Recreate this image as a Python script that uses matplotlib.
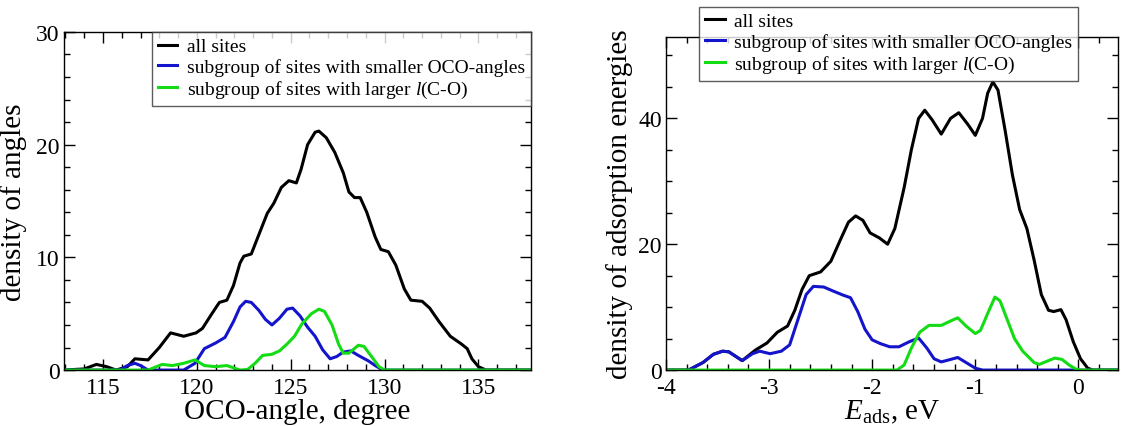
import matplotlib
matplotlib.use("Agg")
import matplotlib.pyplot as plt
from matplotlib.ticker import MultipleLocator

plt.rcParams['font.family'] = ['Liberation Serif', 'DejaVu Serif']
plt.rcParams['mathtext.fontset'] = 'custom'
plt.rcParams['mathtext.rm'] = 'Liberation Serif'
plt.rcParams['mathtext.it'] = 'Liberation Serif:italic'
plt.rcParams['axes.unicode_minus'] = False

# ---- left panel: OCO-angle densities ----
ang_all_x = [112.9, 114.0, 114.65, 115.2, 115.7, 116.3, 116.7, 117.4, 118.0, 118.6, 119.3, 119.96,
             120.3, 120.8, 121.2, 121.6, 121.95, 122.3, 122.5, 122.9, 123.3, 123.75, 124.1, 124.5,
             124.9, 125.3, 125.55, 125.9, 126.3, 126.5, 126.9, 127.35, 127.8, 128.1, 128.4, 128.7,
             129.05, 129.5, 129.8, 130.2, 130.6, 131.05, 131.4, 132.0, 132.4, 132.9, 133.5, 134.1,
             134.4, 134.65, 135.0, 135.4, 137.8]
ang_all_y = [0, 0.1, 0.5, 0.3, 0, 0.3, 1.0, 0.9, 2.0, 3.3, 3.0, 3.3,
             3.7, 5.0, 6.0, 6.2, 7.5, 9.5, 10.1, 10.3, 12.0, 13.9, 14.8, 16.2,
             16.8, 16.6, 17.8, 20.0, 21.1, 21.2, 20.6, 19.3, 17.5, 15.8, 15.3, 15.3,
             14.0, 11.8, 10.7, 10.5, 9.3, 7.2, 6.2, 6.1, 5.5, 4.3, 3.0, 2.3,
             1.9, 1.0, 0.3, 0, 0]

ang_small_x = [112.9, 115.9, 116.3, 116.7, 117.0, 117.4, 119.3, 119.9, 120.4, 121.0, 121.5, 121.95,
               122.3, 122.6, 122.9, 123.3, 123.65, 124.0, 124.4, 124.8, 125.1, 125.5, 125.9, 126.3,
               126.7, 127.1, 127.45, 127.8, 128.2, 128.6, 129.15, 129.5, 129.9, 137.8]
ang_small_y = [0, 0, 0.4, 0.6, 0.4, 0, 0, 0.6, 1.9, 2.4, 2.9, 4.3,
               5.6, 6.1, 6.0, 5.3, 4.5, 4.0, 4.6, 5.4, 5.5, 4.8, 3.8, 3.0,
               1.8, 1.0, 1.2, 1.6, 1.7, 1.3, 0.8, 0.4, 0, 0]

ang_large_x = [112.9, 117.4, 118.15, 118.7, 119.3, 119.9, 120.4, 121.0, 121.6, 121.95, 122.3, 122.7,
               123.1, 123.5, 124.0, 124.4, 124.8, 125.2, 125.6, 126.1, 126.5, 126.8, 127.2, 127.55,
               127.8, 128.1, 128.6, 128.9, 129.35, 129.7, 130.0, 137.8]
ang_large_y = [0, 0, 0.5, 0.4, 0.6, 0.9, 0.4, 0.3, 0.4, 0.2, 0, 0.05,
               0.6, 1.3, 1.4, 1.7, 2.3, 3.0, 4.1, 5.0, 5.4, 5.2, 4.0, 2.3,
               1.5, 1.5, 2.2, 2.1, 1.1, 0.3, 0, 0]

# ---- right panel: adsorption energy densities ----
e_all_x = [-4.0, -3.78, -3.64, -3.54, -3.45, -3.39, -3.26, -3.13, -3.02, -2.92, -2.82, -2.75,
           -2.68, -2.61, -2.5, -2.4, -2.3, -2.23, -2.16, -2.09, -2.02, -1.93, -1.85, -1.78,
           -1.69, -1.62, -1.55, -1.49, -1.42, -1.33, -1.24, -1.16, -1.07, -1.0, -0.93, -0.88,
           -0.83, -0.78, -0.71, -0.64, -0.57, -0.5, -0.43, -0.36, -0.29, -0.24, -0.17, -0.12,
           -0.05, 0.02, 0.09, 0.14, 0.38]
e_all_y = [0, 0, 1.2, 2.5, 3.0, 2.9, 1.5, 3.2, 4.3, 6.0, 7.0, 9.5,
           12.8, 15.0, 15.6, 17.3, 21.0, 23.5, 24.5, 23.8, 21.8, 21.0, 20.0, 22.5,
           29.0, 35.0, 40.0, 41.3, 39.8, 37.5, 40.0, 40.9, 39.0, 37.3, 40.0, 44.0,
           45.8, 44.5, 38.0, 31.0, 25.5, 22.5, 17.5, 12.0, 9.5, 9.3, 9.6, 8.0,
           4.5, 1.8, 0.3, 0, 0]

e_small_x = [-4.0, -3.78, -3.64, -3.54, -3.45, -3.39, -3.26, -3.16, -3.09, -2.99, -2.88, -2.8,
             -2.73, -2.64, -2.57, -2.47, -2.37, -2.28, -2.21, -2.14, -2.07, -2.0, -1.92, -1.83,
             -1.74, -1.64, -1.55, -1.47, -1.4, -1.33, -1.26, -1.17, -1.09, -1.0, -0.93, 0.38]
e_small_y = [0, 0, 1.2, 2.5, 3.0, 2.9, 1.5, 2.6, 3.0, 2.6, 3.0, 4.0,
             7.5, 12.0, 13.3, 13.2, 12.5, 11.9, 11.5, 9.3, 6.5, 4.8, 4.2, 3.7,
             3.7, 4.5, 5.1, 3.5, 1.8, 1.3, 1.6, 2.0, 1.2, 0.3, 0, 0]

e_large_x = [-4.0, -1.76, -1.69, -1.62, -1.54, -1.45, -1.33, -1.24, -1.17, -1.09, -1.0, -0.95,
             -0.88, -0.81, -0.76, -0.69, -0.62, -0.54, -0.43, -0.38, -0.29, -0.23, -0.16, -0.09,
             -0.03, 0.01, 0.38]
e_large_y = [0, 0, 0.8, 3.5, 6.0, 7.1, 7.1, 7.8, 8.3, 7.0, 5.8, 6.3,
             9.0, 11.6, 11.0, 8.0, 5.0, 3.0, 1.2, 0.9, 1.5, 1.9, 1.7, 0.8,
             0.2, 0, 0]

labels = ['all sites',
          'subgroup of sites with smaller OCO-angles',
          'subgroup of sites with larger $\\mathit{l}$(C-O)']
colors = ['black', '#1414cc', '#14dc14']

fig = plt.figure(figsize=(11.21, 4.27), dpi=100)
ax1 = fig.add_axes([0.0567, 0.131, 0.417, 0.792])
ax2 = fig.add_axes([0.594, 0.131, 0.403, 0.781])

for ax in (ax1, ax2):
    ax.tick_params(which='both', direction='in', top=True, right=True, labelsize=17,
                   width=1)
    ax.tick_params(axis='x', pad=5)
    ax.tick_params(axis='y', pad=3)
    ax.tick_params(which='major', length=8)
    ax.tick_params(which='minor', length=4)
    for s in ax.spines.values():
        s.set_linewidth(1)

lw = 2.2
ax1.plot(ang_all_x, ang_all_y, color=colors[0], lw=lw, label=labels[0])
ax1.plot(ang_small_x, ang_small_y, color=colors[1], lw=lw, label=labels[1])
ax1.plot(ang_large_x, ang_large_y, color=colors[2], lw=lw, label=labels[2])
ax1.set_xlim(112.9, 137.8)
ax1.set_ylim(0, 30)
ax1.xaxis.set_major_locator(MultipleLocator(5))
ax1.xaxis.set_minor_locator(MultipleLocator(1))
ax1.yaxis.set_major_locator(MultipleLocator(10))
ax1.yaxis.set_minor_locator(MultipleLocator(2))
ax1.set_xlabel('OCO-angle, degree', fontsize=21, labelpad=0)
ax1.set_ylabel('density of angles', fontsize=21, labelpad=6)
leg_kw = dict(loc='upper right', borderaxespad=0, fontsize=14, frameon=True,
              fancybox=False, handlelength=1.0, handletextpad=0.5,
              labelspacing=0.15, borderpad=0.3)
leg1 = ax1.legend(bbox_to_anchor=(1.0, 1.0), **leg_kw)
leg1.get_frame().set_edgecolor('#333333')
leg1.get_frame().set_linewidth(1)

ax2.plot(e_all_x, e_all_y, color=colors[0], lw=lw, label=labels[0])
ax2.plot(e_small_x, e_small_y, color=colors[1], lw=lw, label=labels[1])
ax2.plot(e_large_x, e_large_y, color=colors[2], lw=lw, label=labels[2])
ax2.set_xlim(-4, 0.38)
ax2.set_ylim(0, 53)
ax2.xaxis.set_major_locator(MultipleLocator(1))
ax2.xaxis.set_minor_locator(MultipleLocator(0.2))
ax2.yaxis.set_major_locator(MultipleLocator(20))
ax2.yaxis.set_minor_locator(MultipleLocator(5))
ax2.set_xlabel('$\\mathit{E}_{\\rm ads}$, eV', fontsize=21, labelpad=0)
ax2.set_ylabel('density of adsorption energies', fontsize=21, labelpad=4)
leg2 = ax2.legend(bbox_to_anchor=(0.913, 1.09), **leg_kw)
leg2.get_frame().set_edgecolor('#333333')
leg2.get_frame().set_linewidth(1)

fig.savefig('out.png', dpi=100)
